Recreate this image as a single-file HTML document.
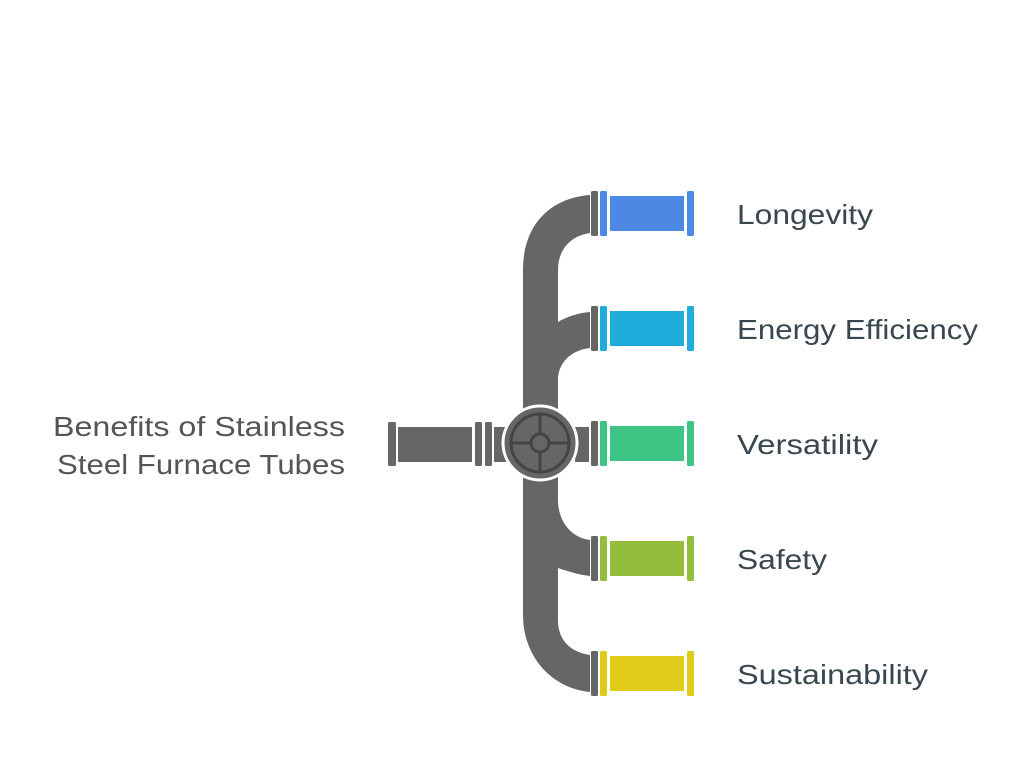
<!DOCTYPE html>
<html><head><meta charset="utf-8"><style>
html,body{margin:0;padding:0;background:#fff;width:1024px;height:778px;overflow:hidden}
svg{display:block}
text{font-family:"Liberation Sans",sans-serif;font-size:28px}
</style></head><body>
<svg width="1024" height="778" viewBox="0 0 1024 778" xmlns="http://www.w3.org/2000/svg">
<g fill="#666666">
<!-- vertical trunk with elbows -->
<path d="M590,195 C550,198 523,225 523,270 L523,615 C523,655 550,688 590,692 L590,655 C570,652 558,640 558,620 L558,568 C570,572 580,575 590,576 L590,540 C572,538 558,522 558,500 L558,380 C558,362 572,350 590,348 L590,312 C578,313 566,317 558,322 L558,270 C558,250 570,236 590,233 Z"/>
<!-- left pipe -->
<rect x="388" y="422" width="8" height="44" rx="1.5"/>
<rect x="398" y="427" width="74" height="35"/>
<rect x="475" y="422" width="7" height="44" rx="1.5"/>
<rect x="485" y="422" width="7" height="44" rx="1.5"/>
<rect x="494" y="427" width="14" height="35"/>
<rect x="575" y="427" width="14" height="35"/>
<!-- gray flanges -->
<rect x="591" y="191" width="7" height="45" rx="1.5"/>
<rect x="591" y="306" width="7" height="45" rx="1.5"/>
<rect x="591" y="421" width="7" height="45" rx="1.5"/>
<rect x="591" y="536" width="7" height="45" rx="1.5"/>
<rect x="591" y="651" width="7" height="45" rx="1.5"/>
</g>
<!-- valve -->
<circle cx="540" cy="443" r="37" fill="#666" stroke="#fff" stroke-width="3"/>
<circle cx="540" cy="443" r="29" fill="none" stroke="#444" stroke-width="3"/>
<g stroke="#444" stroke-width="3">
<line x1="511" y1="443" x2="531" y2="443"/><line x1="549" y1="443" x2="569" y2="443"/>
<line x1="540" y1="414" x2="540" y2="434"/><line x1="540" y1="452" x2="540" y2="472"/>
</g>
<circle cx="540" cy="443" r="9" fill="none" stroke="#444" stroke-width="3"/>
<!-- colored pipes -->
<g fill="#4E88E5"><rect x="600" y="191" width="7" height="45" rx="1.5"/><rect x="610" y="196" width="74" height="35"/><rect x="687" y="191" width="7" height="45" rx="1.5"/></g>
<g fill="#1FACDA"><rect x="600" y="306" width="7" height="45" rx="1.5"/><rect x="610" y="311" width="74" height="35"/><rect x="687" y="306" width="7" height="45" rx="1.5"/></g>
<g fill="#3EC585"><rect x="600" y="421" width="7" height="45" rx="1.5"/><rect x="610" y="426" width="74" height="35"/><rect x="687" y="421" width="7" height="45" rx="1.5"/></g>
<g fill="#93BD3A"><rect x="600" y="536" width="7" height="45" rx="1.5"/><rect x="610" y="541" width="74" height="35"/><rect x="687" y="536" width="7" height="45" rx="1.5"/></g>
<g fill="#E0CB19"><rect x="600" y="651" width="7" height="45" rx="1.5"/><rect x="610" y="656" width="74" height="35"/><rect x="687" y="651" width="7" height="45" rx="1.5"/></g>
<!-- text -->
<g fill="#555555">
<text x="345" y="436" text-anchor="end" textLength="292" lengthAdjust="spacingAndGlyphs">Benefits of Stainless</text>
<text x="345" y="474" text-anchor="end" textLength="288" lengthAdjust="spacingAndGlyphs">Steel Furnace Tubes</text>
</g>
<g fill="#39474F">
<text x="737" y="224" textLength="136" lengthAdjust="spacingAndGlyphs">Longevity</text>
<text x="737" y="339" textLength="241" lengthAdjust="spacingAndGlyphs">Energy Efficiency</text>
<text x="737" y="454" textLength="141" lengthAdjust="spacingAndGlyphs">Versatility</text>
<text x="737" y="569" textLength="90" lengthAdjust="spacingAndGlyphs">Safety</text>
<text x="737" y="684" textLength="191" lengthAdjust="spacingAndGlyphs">Sustainability</text>
</g>
</svg>
</body></html>
